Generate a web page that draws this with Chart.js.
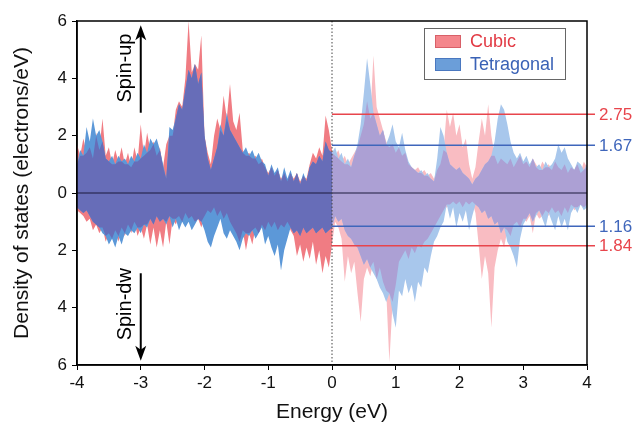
<!DOCTYPE html>
<html>
<head>
<meta charset="utf-8">
<script src="https://cdn.jsdelivr.net/npm/chart.js@4.4.0/dist/chart.umd.min.js"></script>
<style>
    html, body { margin: 0; padding: 0; background: #fff; }
</style>
</head>
<body>
<canvas id="DosChart" width="635" height="431"></canvas>
<script>
// energy grid: -4 .. 4 eV, step 0.05
const energyStart = -4;
const energyStep = 0.05;

// spin-up DOS (electrons/eV)
const cubicUp = [
    1.7, 1.3, 1.9, 1.4, 1.6, 1.2, 2.1, 1.5, 2.6, 1.3,
    1.6, 1.0, 1.5, 1.1, 1.6, 1.0, 1.4, 0.9, 1.6, 1.1,
    2.4, 1.3, 2.1, 1.5, 1.8, 1.3, 1.6, 0.9, 1.7, 2.0,
    2.0, 2.9, 3.2, 3.0, 4.0, 6.0, 4.2, 4.5, 4.3, 5.5,
    2.0, 1.4, 1.0, 2.0, 2.6, 2.2, 3.4, 2.6, 3.8, 2.5,
    2.2, 2.8, 1.5, 1.3, 1.4, 1.2, 1.3, 1.0, 1.2, 0.9,
    0.7, 0.9, 0.6, 0.8, 0.5, 0.7, 0.4, 0.7, 0.5, 0.7,
    0.4, 0.6, 0.5, 1.0, 1.4, 1.2, 1.6, 1.3, 2.7, 2.2,
    1.5, 1.3, 1.5, 1.1, 1.3, 1.0, 1.2, 1.4, 1.6, 2.0,
    2.4, 3.2, 2.6, 4.8, 3.0, 2.6, 2.2, 1.8, 1.6, 1.7,
    1.4, 1.6, 1.3, 1.4, 1.0, 0.9, 0.8, 0.9, 0.7, 0.8,
    0.6, 0.7, 0.5, 0.8, 1.0, 1.5, 2.9, 2.3, 2.8, 2.0,
    2.4, 1.6, 1.9, 1.0, 0.5, 0.9, 1.8, 2.6, 2.0, 3.1,
    2.0, 1.3, 1.0, 1.2, 1.1, 1.0, 1.2, 0.9, 1.1, 1.3,
    1.0, 1.1, 0.9, 1.2, 1.0, 0.8, 1.1, 0.9, 1.0, 0.8,
    1.1, 0.9, 0.8, 1.0, 0.7, 0.9, 0.8, 1.0, 0.7, 1.1,
    0.9
];
const tetraUp = [
    1.0, 1.5, 1.3, 2.3, 1.8, 2.6, 2.0, 2.2, 1.8, 1.2,
    1.1, 1.3, 1.0, 1.3, 1.1, 1.2, 1.0, 1.3, 1.1, 1.4,
    1.2, 1.7, 1.4, 1.9, 1.7, 1.9, 1.5, 1.0, 0.5, 2.3,
    2.2, 2.6, 3.1, 2.9, 3.6, 4.3, 4.0, 4.5, 3.8, 4.2,
    2.0, 1.2, 0.8, 1.2, 1.6, 2.4, 2.0, 2.8, 2.2, 2.0,
    1.8, 1.6, 1.4, 1.6, 1.3, 1.5, 1.2, 1.4, 1.1, 1.0,
    0.6, 1.0, 0.7, 0.9, 0.4, 0.9, 0.5, 0.8, 0.4, 0.7,
    0.3, 0.7, 0.4, 0.9, 1.1, 1.0, 1.3, 1.1, 1.8, 1.5,
    1.4, 1.6, 1.2, 1.4, 1.0, 1.2, 0.9, 1.3, 1.7, 2.4,
    3.5, 4.7, 3.8, 2.8, 2.4, 2.0, 2.2, 1.7, 2.0, 2.4,
    1.8, 1.6, 2.1, 1.5, 1.1, 0.9, 0.8, 0.7, 0.8, 0.6,
    0.7, 0.5, 0.4, 1.2, 2.3, 2.0, 1.4, 1.0, 0.9, 0.8,
    0.9, 0.7, 0.6, 0.5, 0.3, 0.5, 0.6, 0.8, 1.0, 1.1,
    1.3, 1.8, 2.6, 3.1, 2.9, 2.4, 1.8, 1.4, 1.2, 1.4,
    1.1, 1.3, 1.0, 1.2, 0.9, 1.0, 0.8, 1.1, 0.9, 1.0,
    1.2, 1.7, 1.4, 1.6, 1.2, 1.0, 0.8, 1.1, 1.0, 0.8,
    1.0
];

// spin-down DOS (plotted negative)
const cubicDn = [
    -0.6, -0.7, -0.8, -1.0, -0.9, -1.3, -1.1, -1.4, -1.2, -1.7,
    -1.4, -1.6, -1.3, -1.7, -1.2, -1.5, -1.1, -1.4, -1.0, -1.5,
    -1.2, -1.6, -1.1, -1.8, -1.2, -1.9, -1.3, -1.9, -1.0, -1.8,
    -0.9, -1.1, -0.8, -1.0, -0.7, -0.9, -0.8, -1.0, -0.9, -1.2,
    -0.8, -0.6, -0.7, -0.5, -0.8, -0.6, -0.9, -0.7, -1.0, -1.2,
    -1.4, -1.7, -1.3, -2.0, -1.4, -1.8, -1.2, -1.4, -1.1, -1.3,
    -1.0, -1.2, -1.0, -1.3, -1.1, -1.2, -1.0, -1.3, -1.5, -2.2,
    -1.8, -2.4, -1.9, -2.3, -1.7, -2.5, -2.0, -2.8, -2.2, -2.6,
    -1.8, -1.0, -1.2, -1.6, -3.1, -2.2, -2.8, -2.4, -3.5, -4.5,
    -3.0, -2.6, -2.9, -2.4, -3.0, -2.6, -3.1, -3.4, -5.9, -3.8,
    -3.2, -2.4, -2.2, -2.0, -2.3, -1.9, -2.1, -1.8, -1.9, -1.7,
    -1.6, -1.4, -1.2, -1.0, -0.8, -0.6, -0.5, -0.4, -0.3, -0.4,
    -0.3, -0.5, -0.3, -0.4, -0.3, -0.7, -1.8, -3.0, -2.2, -2.8,
    -4.7, -2.6, -2.0, -1.6, -1.9, -1.3, -1.5, -1.1, -1.0, -1.2,
    -0.9, -1.0, -0.8, -1.4, -0.7, -0.9, -0.8, -0.6, -0.8, -0.5,
    -0.7, -0.6, -0.8, -0.5, -0.7, -0.4, -0.6, -0.5, -0.4, -0.5,
    -0.4
];
const tetraDn = [
    -0.5, -0.6, -0.7, -0.6, -0.8, -1.0, -1.1, -1.2, -1.4, -1.5,
    -1.8, -1.6, -1.9, -1.5, -1.8, -1.4, -1.5, -1.3, -1.4, -1.2,
    -1.4, -1.1, -1.2, -0.9, -1.1, -0.8, -1.0, -0.9, -1.1, -0.8,
    -1.2, -0.9, -1.3, -1.0, -1.2, -1.0, -1.3, -1.1, -0.9, -1.0,
    -1.3, -1.7, -1.9, -1.5, -1.2, -0.9, -1.4, -1.6, -1.3, -1.5,
    -1.7, -2.0, -1.6, -1.4, -1.5, -1.3, -1.6, -1.4, -1.2, -1.8,
    -1.5, -1.9, -2.2, -1.8, -2.7, -2.0, -1.6, -1.2, -1.4, -1.3,
    -1.5, -1.2, -1.4, -1.3, -1.2, -1.4, -1.3, -1.2, -1.4, -1.3,
    -1.2, -0.8, -1.0, -0.9, -1.3, -1.5, -1.6, -1.8, -1.9, -2.2,
    -2.5, -2.3, -2.6, -2.8, -3.0, -3.3, -3.5, -3.8, -3.5, -4.2,
    -4.7, -3.4, -3.6, -3.0, -3.5, -3.2, -3.8, -3.1, -3.3, -2.6,
    -2.8, -2.2, -1.7, -1.5, -1.2, -1.0, -0.4, -0.9, -0.5, -1.2,
    -0.7, -1.0, -0.6, -1.3, -0.8, -0.4, -0.5, -0.7, -0.6, -0.9,
    -0.8, -1.1, -1.0, -1.4, -1.2, -1.7, -1.9, -2.2, -2.6, -1.6,
    -1.1, -0.9, -0.7, -1.0, -0.8, -0.6, -0.9, -1.2, -0.7, -1.0,
    -1.3, -0.8, -1.2, -0.9, -1.3, -0.7, -0.5, -0.7, -0.4, -0.6,
    -0.5
];

// reference levels marked above the Fermi level
const levelValues = [2.75, 1.67, -1.16, -1.84];
const levelLabels = ['2.75', '1.67', '1.16', '1.84'];
const levelColors = ['#e8454c', '#3f66bb', '#3f66bb', '#e8454c'];

const FONT = '"Liberation Sans", Arial, sans-serif';

const energy = cubicUp.map((_, i) => Math.round((energyStart + i * energyStep) * 100) / 100);
const overlapUp = cubicUp.map((v, i) => Math.min(v, tetraUp[i]));
const overlapDn = cubicDn.map((v, i) => Math.max(v, tetraDn[i]));
const fermiIdx = energy.indexOf(0);

const pts = (vals, from, to) => energy.slice(from, to + 1).map((e, i) => ({x: e, y: vals[from + i]}));

function area(vals, from, to, color, order) {
    return {
        data: pts(vals, from, to),
        fill: 'origin',
        backgroundColor: color,
        borderColor: 'rgba(0,0,0,0)',
        borderWidth: 0,
        pointRadius: 0,
        tension: 0,
        order: order
    };
}

// occupied side (solid) and empty side (pale)
const sides = [
    {from: 0, to: fermiIdx, red: '#f07c83', blue: '#5c98d8', both: '#676db8'},
    {from: fermiIdx, to: energy.length - 1, red: '#f9bcc2', blue: '#a8c7ec', both: '#aca0d4'}
];

const datasets = [];
sides.forEach(s => {
    datasets.push(area(cubicUp, s.from, s.to, s.red, 3));
    datasets.push(area(tetraUp, s.from, s.to, s.blue, 2));
    datasets.push(area(overlapUp, s.from, s.to, s.both, 1));
    datasets.push(area(cubicDn, s.from, s.to, s.red, 3));
    datasets.push(area(tetraDn, s.from, s.to, s.blue, 2));
    datasets.push(area(overlapDn, s.from, s.to, s.both, 1));
});

function drawArrow(ctx, px, y1, y2) {
    const dir = y2 < y1 ? -1 : 1;
    ctx.beginPath();
    ctx.moveTo(px, y1);
    ctx.lineTo(px, y2 - dir * 8);
    ctx.stroke();
    ctx.beginPath();
    ctx.moveTo(px, y2);
    ctx.lineTo(px - 5.5, y2 - dir * 15);
    ctx.lineTo(px, y2 - dir * 11);
    ctx.lineTo(px + 5.5, y2 - dir * 15);
    ctx.closePath();
    ctx.fill();
}

const decorPlugin = {
    id: 'decor',
    afterDatasetsDraw(chart) {
        const {ctx, chartArea: a, scales: {x, y}} = chart;
        const x0 = x.getPixelForValue(0);
        const y0 = y.getPixelForValue(0);
        ctx.save();

        // zero line
        ctx.strokeStyle = '#1d1b3c';
        ctx.lineWidth = 1.2;
        ctx.beginPath();
        ctx.moveTo(a.left, y0);
        ctx.lineTo(a.right, y0);
        ctx.stroke();

        // Fermi level, dotted
        ctx.setLineDash([1.5, 2]);
        ctx.strokeStyle = '#444';
        ctx.lineWidth = 1;
        ctx.beginPath();
        ctx.moveTo(x0, a.top);
        ctx.lineTo(x0, a.bottom);
        ctx.stroke();
        ctx.setLineDash([]);

        // level lines + labels
        ctx.font = '17px ' + FONT;
        ctx.textAlign = 'left';
        ctx.textBaseline = 'middle';
        levelValues.forEach((v, i) => {
            const py = y.getPixelForValue(v);
            ctx.strokeStyle = levelColors[i];
            ctx.lineWidth = 1.5;
            ctx.beginPath();
            ctx.moveTo(x0, py);
            ctx.lineTo(a.right + 8, py);
            ctx.stroke();
            ctx.fillStyle = levelColors[i];
            ctx.fillText(levelLabels[i], a.right + 12, py + 1);
        });

        // frame
        ctx.strokeStyle = '#000';
        ctx.lineWidth = 1.5;
        ctx.strokeRect(a.left, a.top, a.right - a.left, a.bottom - a.top);

        // legend
        const lx = a.right - 163, ly = a.top + 7;
        ctx.lineWidth = 1;
        ctx.strokeStyle = '#666';
        ctx.strokeRect(lx + 0.5, ly + 0.5, 141, 51);
        ctx.fillStyle = '#f4868c';
        ctx.fillRect(lx + 11, ly + 7, 26, 13);
        ctx.strokeStyle = '#d86068';
        ctx.strokeRect(lx + 11.5, ly + 7.5, 25, 12);
        ctx.fillStyle = '#6b9ed9';
        ctx.fillRect(lx + 11, ly + 30, 26, 13);
        ctx.strokeStyle = '#4a78c0';
        ctx.strokeRect(lx + 11.5, ly + 30.5, 25, 12);
        ctx.font = '18px ' + FONT;
        ctx.fillStyle = '#e23a44';
        ctx.fillText('Cubic', lx + 46, ly + 14);
        ctx.fillStyle = '#3a62b6';
        ctx.fillText('Tetragonal', lx + 46, ly + 37);

        // spin arrows and labels
        ctx.fillStyle = '#000';
        ctx.strokeStyle = '#000';
        ctx.lineWidth = 2;
        const ax = x.getPixelForValue(-3);
        drawArrow(ctx, ax, y.getPixelForValue(2.8), y.getPixelForValue(5.85));
        drawArrow(ctx, ax, y.getPixelForValue(-2.8), y.getPixelForValue(-5.85));
        ctx.font = '20px ' + FONT;
        ctx.textAlign = 'center';
        ctx.textBaseline = 'middle';
        [['Spin-up', 4.36], ['Spin-dw', -3.88]].forEach(([t, v]) => {
            ctx.save();
            ctx.translate(x.getPixelForValue(-3.24), y.getPixelForValue(v));
            ctx.rotate(-Math.PI / 2);
            ctx.fillText(t, 0, 0);
            ctx.restore();
        });

        ctx.restore();
    }
};

new Chart(document.getElementById('DosChart'), {
    type: 'line',
    data: {datasets: datasets},
    options: {
        responsive: false,
        animation: false,
        layout: {padding: {top: 21, right: 48, left: 0, bottom: 0}},
        plugins: {
            legend: {display: false},
            tooltip: {enabled: false}
        },
        scales: {
            x: {
                type: 'linear',
                min: -4,
                max: 4,
                afterFit: s => { s.height = 66; },
                ticks: {stepSize: 1, color: '#111', font: {family: FONT, size: 17}, padding: 3},
                grid: {drawOnChartArea: false, drawTicks: true, tickLength: 5, color: '#000'},
                border: {display: true, color: '#000', width: 1.5},
                title: {display: true, text: 'Energy (eV)', color: '#111', font: {family: FONT, size: 21}, padding: {top: 2, bottom: 6}}
            },
            y: {
                min: -6,
                max: 6,
                afterFit: s => { s.width = 77; },
                ticks: {stepSize: 2, color: '#111', font: {family: FONT, size: 17}, padding: 5,
                    callback: v => Math.abs(v)},
                grid: {drawOnChartArea: false, drawTicks: true, tickLength: 5, color: '#000'},
                border: {display: true, color: '#000', width: 1.5},
                title: {display: true, text: 'Density of states (electrons/eV)', color: '#111', font: {family: FONT, size: 21}, padding: {top: 10, bottom: 0}}
            }
        }
    },
    plugins: [decorPlugin]
});
</script>
</body>
</html>
